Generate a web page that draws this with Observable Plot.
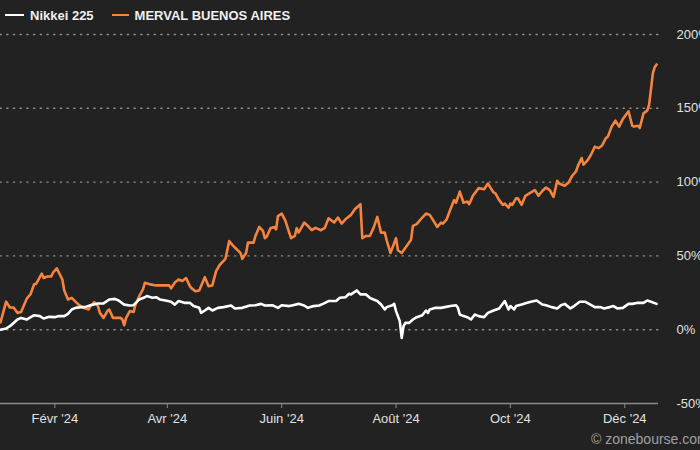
<!DOCTYPE html>
<html>
<head>
<meta charset="utf-8">
<script src="https://cdn.jsdelivr.net/npm/d3@7"></script>
<script src="https://cdn.jsdelivr.net/npm/@observablehq/plot@0.6"></script>
<style>
  html, body { margin: 0; padding: 0; background: #222222; overflow: hidden; }
  #wrap { position: relative; width: 700px; height: 450px; background: #222222; font-family: "Liberation Sans", Arial, sans-serif; }
  #legend { height: 30px; display: flex; align-items: center; padding-left: 5px; color: #f0f0f0; font-weight: bold; font-size: 13px; }
  .sw { display: inline-block; height: 2.6px; margin-right: 6px; }
  .item { display: inline-flex; align-items: center; margin-right: 18px; }
  #credit { position: absolute; left: 591px; top: 431px; color: #a0a0a0; font-size: 14px; white-space: nowrap; }
</style>
</head>
<body>
<div id="wrap">
  <div id="legend"></div>
  <div id="chart"></div>
  <div id="credit">© zonebourse.com</div>
</div>
<script>
const seriesNames = ["Nikkei 225", "MERVAL BUENOS AIRES"];
const seriesColors = ["#ffffff", "#f5843f"];

const nikkeiDates = ["01-03","01-06","01-08","01-10","01-12","01-14","01-17","01-18","01-21","01-24","01-26","01-29","02-01","02-03","02-06","02-08","02-10","02-12","02-15","02-17","02-20","02-24","02-27","03-01","03-04","03-06","03-09","03-12","03-14","03-17","03-20","03-21","03-24","03-26","03-28","03-31","04-03","04-05","04-07","04-10","04-13","04-15","04-18","04-19","04-21","04-23","04-25","04-28","05-01","05-05","05-07","05-11","05-15","05-18","05-21","05-23","05-27","05-30","06-01","06-05","06-07","06-10","06-13","06-15","06-18","06-21","06-23","06-26","06-30","07-02","07-05","07-07","07-08","07-11","07-13","07-16","07-18","07-20","07-22","07-24","07-26","07-27","07-30","07-31","08-01","08-03","08-04","08-05","08-06","08-08","08-10","08-12","08-15","08-17","08-18","08-19","08-22","08-25","08-27","08-30","09-02","09-03","09-04","09-06","09-08","09-10","09-12","09-14","09-17","09-19","09-22","09-25","09-28","09-30","10-01","10-03","10-04","10-07","10-10","10-12","10-15","10-18","10-20","10-23","10-26","10-28","10-30","11-02","11-04","11-07","11-10","11-12","11-15","11-18","11-20","11-23","11-25","11-27","11-30","12-03","12-05","12-08","12-11","12-13","12-15","12-18"];
const nikkeiValues = [0,0.8,2.4,4.6,6.9,8,6.9,7.6,9.8,9.2,7.6,8.7,8.5,9.2,9.2,10.7,13.7,14.8,15.3,15.3,16.6,17.8,17.8,20.5,20.9,19.8,17,16.4,16.6,20.5,22,22.8,21.6,22,20.5,19.8,18.9,17,19.4,18.2,18.2,16,14.8,11.4,13,14.8,13,14.8,15.3,16.4,14.4,14.8,16.4,16.6,17.5,16.4,16.6,14.8,16.6,16,16.6,17.5,16.4,14.8,16,16.4,17.5,19.4,19.4,21.6,22,24.3,23.9,26.6,23.9,23.9,21.6,20.5,19.4,17.1,13.7,15.3,16.6,17.5,12.6,5.8,-5.6,2.4,4.6,4.6,6.9,8.5,9.8,13,11.4,13.7,14.8,14.8,15.3,16,16.6,14.8,10.3,9.2,8.5,6.9,10.3,9.2,8.5,11.4,13,14.4,19.4,13.7,16,13.7,16,17.1,18.2,18.9,19.8,17.1,16.6,15.3,14.4,16.6,17.5,14.4,16,18.9,18.9,17.5,15.3,15.3,14.4,15.3,16,14.4,14.8,17.5,17.5,18.2,18.2,19.8,18.9,17.5];

const mervalDates = ["01-03","01-06","01-08","01-10","01-12","01-14","01-15","01-17","01-19","01-21","01-22","01-25","01-26","01-28","01-30","01-31","02-02","02-05","02-06","02-08","02-10","02-12","02-14","02-16","02-19","02-20","02-22","02-24","02-25","02-27","02-29","03-01","03-03","03-05","03-07","03-08","03-09","03-10","03-12","03-14","03-15","03-17","03-19","03-20","03-23","03-26","03-30","04-02","04-03","04-05","04-07","04-09","04-11","04-13","04-14","04-16","04-18","04-21","04-23","04-25","04-27","04-29","05-02","05-04","05-06","05-08","05-10","05-11","05-13","05-14","05-17","05-18","05-20","05-22","05-23","05-24","05-26","05-28","05-29","05-30","06-01","06-03","06-04","06-06","06-08","06-09","06-10","06-13","06-15","06-17","06-19","06-22","06-24","06-26","06-29","07-01","07-03","07-05","07-08","07-10","07-13","07-14","07-16","07-18","07-20","07-22","07-24","07-26","07-27","07-29","08-01","08-02","08-04","08-06","08-09","08-10","08-12","08-15","08-17","08-19","08-21","08-23","08-25","08-26","08-28","08-30","09-01","09-02","09-04","09-06","09-08","09-09","09-11","09-14","09-17","09-19","09-22","09-23","09-25","09-27","09-28","09-30","10-01","10-02","10-04","10-05","10-07","10-09","10-12","10-14","10-16","10-18","10-20","10-22","10-24","10-26","10-27","10-30","11-01","11-03","11-05","11-06","11-08","11-09","11-11","11-13","11-15","11-17","11-19","11-21","11-22","11-24","11-26","11-28","11-30","12-03","12-05","12-06","12-08","12-09","12-11","12-13","12-14","12-15","12-16","12-17","12-18"];
const mervalValues = [5,19,15,15,11.4,12,15,21,24,31,31,38,35,36,36,38.6,41.6,34,26.6,20.5,21.6,19,16.6,15,13.7,16,18.7,16,11.4,8,12.6,13.7,8,8,8,7,3,8,12.6,12,17,22.7,27.3,31.8,30.7,30,30,30,28,32,34,33,35,29.5,28,26,26.6,35.6,29.5,30,39.7,44,48,60,57,54.5,52,48,52,59,59,63.5,69.6,67,62,63,68.8,69.6,68,77,78.7,73.7,69.6,62,63.5,68.8,65.8,72.6,70.3,67.4,69,67.4,69,75.5,72.6,76,71.9,74.8,77.8,81.6,85,62,63.5,63.5,69,76.4,65.8,65.8,60.6,52,62,53.8,52,55.6,61,70.3,71.5,76,78.7,77.8,73.7,69.6,72.6,71.9,74.8,81.6,87.8,86,93.6,86,86.8,85,90.7,95.9,95.2,99,93,92.3,87.8,84.6,85.5,82.7,85.5,84.6,89,89,84.6,90.7,93,94.6,90.7,94,96.3,94.6,90,100.9,99,97.5,99.7,104.3,107.2,111,116.3,111.8,114.5,118.5,124,123,125,129.9,130.8,137.6,141.6,137.6,142.8,148,138.2,137.6,138.2,136.7,146.6,148.4,152.5,163,173.8,177.9,179.7];

const xTickDates = ["2024-02-01","2024-04-01","2024-06-01","2024-08-01","2024-10-01","2024-12-01"];
const xTickLabels = ["Févr '24","Avr '24","Juin '24","Août '24","Oct '24","Déc '24"];
const yTicks = [-50, 0, 50, 100, 150, 200];
const yGrid = [0, 50, 100, 150, 200];
const xDomain = ["2024-01-03", "2024-12-19"];

const toDate = s => new Date("2024-" + s + "T00:00:00Z");
const nikkei = nikkeiDates.map((d, i) => ({date: toDate(d), value: nikkeiValues[i]}));
const merval = mervalDates.map((d, i) => ({date: toDate(d), value: mervalValues[i]}));
const tickDates = xTickDates.map(s => new Date(s + "T00:00:00Z"));
const labelMap = new Map(tickDates.map((d, i) => [+d, xTickLabels[i]]));

// legend
const legend = document.getElementById("legend");
const swWidths = [19, 17];
seriesNames.forEach((n, i) => {
  const it = document.createElement("span");
  it.className = "item";
  const sw = document.createElement("span");
  sw.className = "sw";
  sw.style.background = seriesColors[i];
  sw.style.width = swWidths[i] + "px";
  it.appendChild(sw);
  const t = document.createElement("span");
  t.textContent = n;
  it.appendChild(t);
  legend.appendChild(it);
});

const chart = Plot.plot({
  width: 700,
  height: 420,
  marginTop: 4,
  marginBottom: 47,
  marginLeft: 0,
  marginRight: 42,
  style: {background: "#222222", color: "#e0e0e0", fontFamily: "Liberation Sans, Arial, sans-serif", fontSize: "13px", overflow: "visible"},
  x: {type: "utc", domain: xDomain.map(s => new Date(s + "T00:00:00Z"))},
  y: {domain: [-50, 200]},
  marks: [
    Plot.ruleY(yGrid, {stroke: "#8c8c8c", strokeWidth: 1.4, strokeDasharray: "1.3,5.4", strokeLinecap: "round"}),
    Plot.ruleY([-50], {stroke: "#8a8a8a", strokeWidth: 1.5}),
    Plot.axisX({ticks: tickDates, tickFormat: d => labelMap.get(+d), tickSize: 5, tickPadding: 5, stroke: "#8a8a8a", fill: "#e0e0e0", label: null}),
    Plot.axisY({anchor: "right", ticks: yTicks, tickFormat: d => d + "%", tickSize: 0, tickPadding: 18, textAnchor: "start", fill: "#e0e0e0", label: null}),
    Plot.line(merval, {x: "date", y: "value", stroke: seriesColors[1], strokeWidth: 2.6}),
    Plot.line(nikkei, {x: "date", y: "value", stroke: seriesColors[0], strokeWidth: 2.6})
  ]
});
document.getElementById("chart").appendChild(chart);
</script>
</body>
</html>
